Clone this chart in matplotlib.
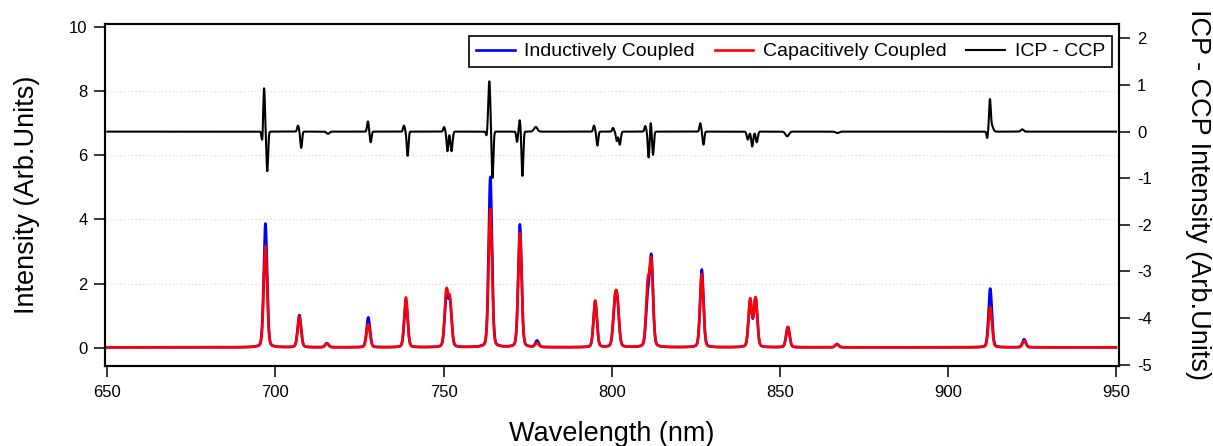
import numpy as np
import matplotlib

matplotlib.use("Agg")
import matplotlib.pyplot as plt

plt.rcParams["font.family"] = ["Liberation Sans", "DejaVu Sans"]
plt.rcParams["axes.unicode_minus"] = False

# emission lines: centre (nm) and apparent peak height for each source
line_centers = [697.0, 707.1, 715.3, 727.6, 738.8, 750.8, 751.9, 763.9, 772.7, 777.8,
                795.1, 800.9, 801.7, 810.7, 811.8, 826.8, 841.2, 842.8, 852.4, 867.0,
                912.6, 922.7]
icp_heights = [3.85, 1.00, 0.13, 0.93, 1.45, 1.45, 1.30, 5.30, 3.82, 0.20,
               1.42, 1.15, 1.20, 1.40, 2.72, 2.42, 1.42, 1.50, 0.63, 0.10,
               1.83, 0.25]
ccp_heights = [3.15, 0.95, 0.12, 0.72, 1.55, 1.65, 1.38, 4.30, 3.55, 0.13,
               1.45, 1.20, 1.25, 1.80, 2.55, 2.28, 1.48, 1.52, 0.63, 0.10,
               1.25, 0.20]

# ICP - CCP trace: lobe centre (nm), amplitude, width (nm)
diff_centers = [696.1, 696.6, 697.55, 706.7, 707.65, 715.6, 727.5, 728.3, 738.2, 739.3,
                750.15, 751.15, 752.35, 762.8, 763.6, 764.55, 771.85, 772.65, 773.45, 777.4,
                794.75, 795.75, 800.4, 801.5, 802.4, 810.0, 811.0, 811.6, 812.3, 826.35,
                827.3, 840.5, 841.8, 843.15, 852.2, 867.2, 911.7, 912.5, 913.1, 922.1]
diff_amps = [-0.25, 0.95, -0.85, 0.13, -0.35, -0.05, 0.22, -0.23, 0.13, -0.52,
             0.10, -0.42, -0.42, -0.10, 1.08, -1.00, -0.22, 0.25, -0.95, 0.10,
             0.13, -0.30, 0.08, -0.20, -0.28, 0.12, -0.56, 0.22, -0.50, 0.18,
             -0.28, -0.17, -0.32, -0.23, -0.10, -0.03, -0.14, 0.66, 0.12, 0.05]
diff_widths = [0.22, 0.25, 0.25, 0.25, 0.25, 0.4, 0.25, 0.25, 0.25, 0.25,
               0.25, 0.25, 0.3, 0.2, 0.3, 0.25, 0.22, 0.22, 0.25, 0.5,
               0.25, 0.25, 0.25, 0.25, 0.3, 0.25, 0.25, 0.22, 0.25, 0.25,
               0.25, 0.3, 0.3, 0.3, 0.5, 0.5, 0.2, 0.25, 0.4, 0.4]

x_ticks = [650, 700, 750, 800, 850, 900, 950]
left_ticks = [0, 2, 4, 6, 8, 10]
right_ticks = [-5, -4, -3, -2, -1, 0, 1, 2]

BASELINE = 0.02
PEAK_FWHM = 1.2


def line_profile(x, centers, heights, fwhm=PEAK_FWHM, eta=0.2):
    y = np.full_like(x, BASELINE)
    for c, h in zip(centers, heights):
        u = (x - c) / fwhm
        gauss = np.exp(-4 * np.log(2) * u ** 2)
        lorentz = 1.0 / (1.0 + 4 * u ** 2)
        y += h * ((1 - eta) * gauss + eta * lorentz)
    return y


def lobes(x, centers, amps, widths):
    y = np.zeros_like(x)
    for c, a, w in zip(centers, amps, widths):
        y += a * np.exp(-0.5 * ((x - c) / w) ** 2)
    return y


wl = np.linspace(650, 950, 6001)
icp = line_profile(wl, line_centers, icp_heights)
ccp = line_profile(wl, line_centers, ccp_heights)
diff = lobes(wl, diff_centers, diff_amps, diff_widths)

fig = plt.figure(figsize=(12.13, 4.46), dpi=100)
ax = fig.add_axes([0.0866, 0.1794, 0.8359, 0.7668])
ax2 = ax.twinx()

h1, = ax.plot(wl, icp, color="#0000ff", lw=1.9, label="Inductively Coupled")
h2, = ax.plot(wl, ccp, color="#ff0000", lw=1.9, label="Capacitively Coupled")
h3, = ax2.plot(wl, diff, color="black", lw=1.5, label="ICP - CCP")

ax.set_xlim(649.3, 950.9)
ax.set_ylim(-0.56, 10.08)
ax2.set_ylim(-5.03, 2.31)
ax.set_xticks(x_ticks)
ax.set_yticks(left_ticks)
ax2.set_yticks(right_ticks)

ax.grid(axis="y", color="#d9d9d9", linestyle=(0, (1, 2)), linewidth=0.9)
ax.yaxis.get_gridlines()[-1].set_visible(False)
ax.yaxis.get_gridlines()[0].set_visible(False)

for a in (ax, ax2):
    for s in a.spines.values():
        s.set_linewidth(1.5)
    a.tick_params(direction="out", length=8, width=1.1, labelsize=12, colors="black")
ax.tick_params(axis="y", pad=4.5)
ax.tick_params(axis="x", pad=6)
ax2.tick_params(axis="y", pad=5)

ax.set_xlabel("Wavelength (nm)", fontsize=19.5)
ax.set_ylabel("Intensity (Arb.Units)", fontsize=19.5)
ax2.set_ylabel("ICP - CCP Intensity (Arb.Units)", fontsize=19.5, rotation=270, va="bottom")
ax.xaxis.set_label_coords(0.5, -0.16)
ax.yaxis.set_label_coords(-0.064, 0.5)
ax2.yaxis.set_label_coords(1.065, 0.5)

leg = ax2.legend(handles=[h1, h2, h3], loc="upper right", ncol=3, fontsize=14,
                 bbox_to_anchor=(1 - 7 / 1014, 1 - 12 / 342), borderaxespad=0,
                 handlelength=2.0, handletextpad=0.5, columnspacing=1.0,
                 borderpad=0.35, fancybox=False, framealpha=1, edgecolor="black")
leg.get_frame().set_linewidth(1.2)

fig.savefig("out.png", dpi=100)
